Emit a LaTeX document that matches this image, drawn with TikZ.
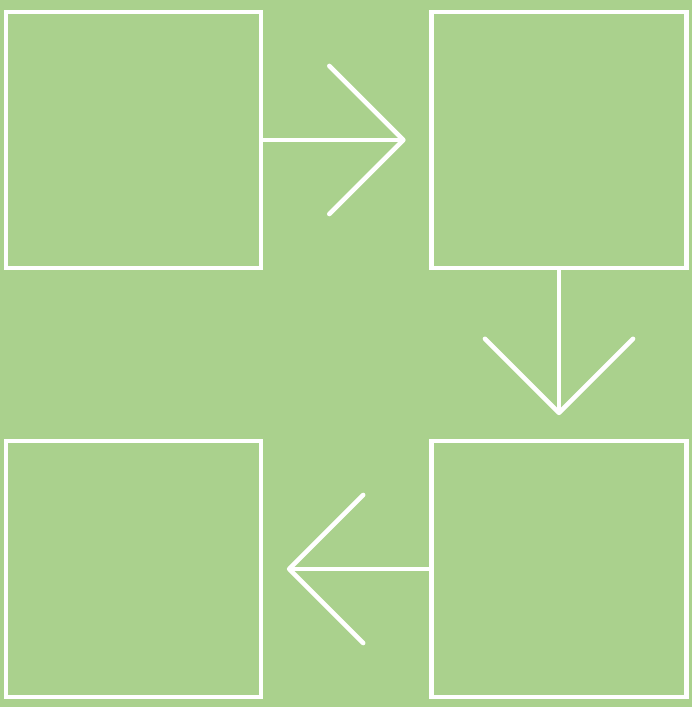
\documentclass[tikz,border=0pt]{standalone}
\usepackage{tikz}
\usetikzlibrary{arrows.meta}
\definecolor{leaf}{HTML}{AAD18D}

\begin{document}
\begin{tikzpicture}[x=0.01cm, y=-0.01cm,
		box/.style={rectangle, draw=white, line width=1.3pt,
				minimum width=2.55cm, minimum height=2.56cm, inner sep=0pt},
		flow/.style={->, draw=white, line width=1.3pt, line cap=round,
				shorten >=0.235cm},
		>={Straight Barb[length=7.4mm, width=14.8mm, round]}]

	\fill[leaf] (0,0) rectangle (692,707);
	\useasboundingbox (0,0) rectangle (692,707);

	\node[box] (A) at (133.5,140) {};
	\node[box] (B) at (559,140) {};
	\node[box] (C) at (559,569) {};
	\node[box] (D) at (133.5,569) {};
	\draw[flow] (A) -- (B);
	\draw[flow] (B) -- (C);
	\draw[flow] (C) -- (D);
\end{tikzpicture}
\end{document}
